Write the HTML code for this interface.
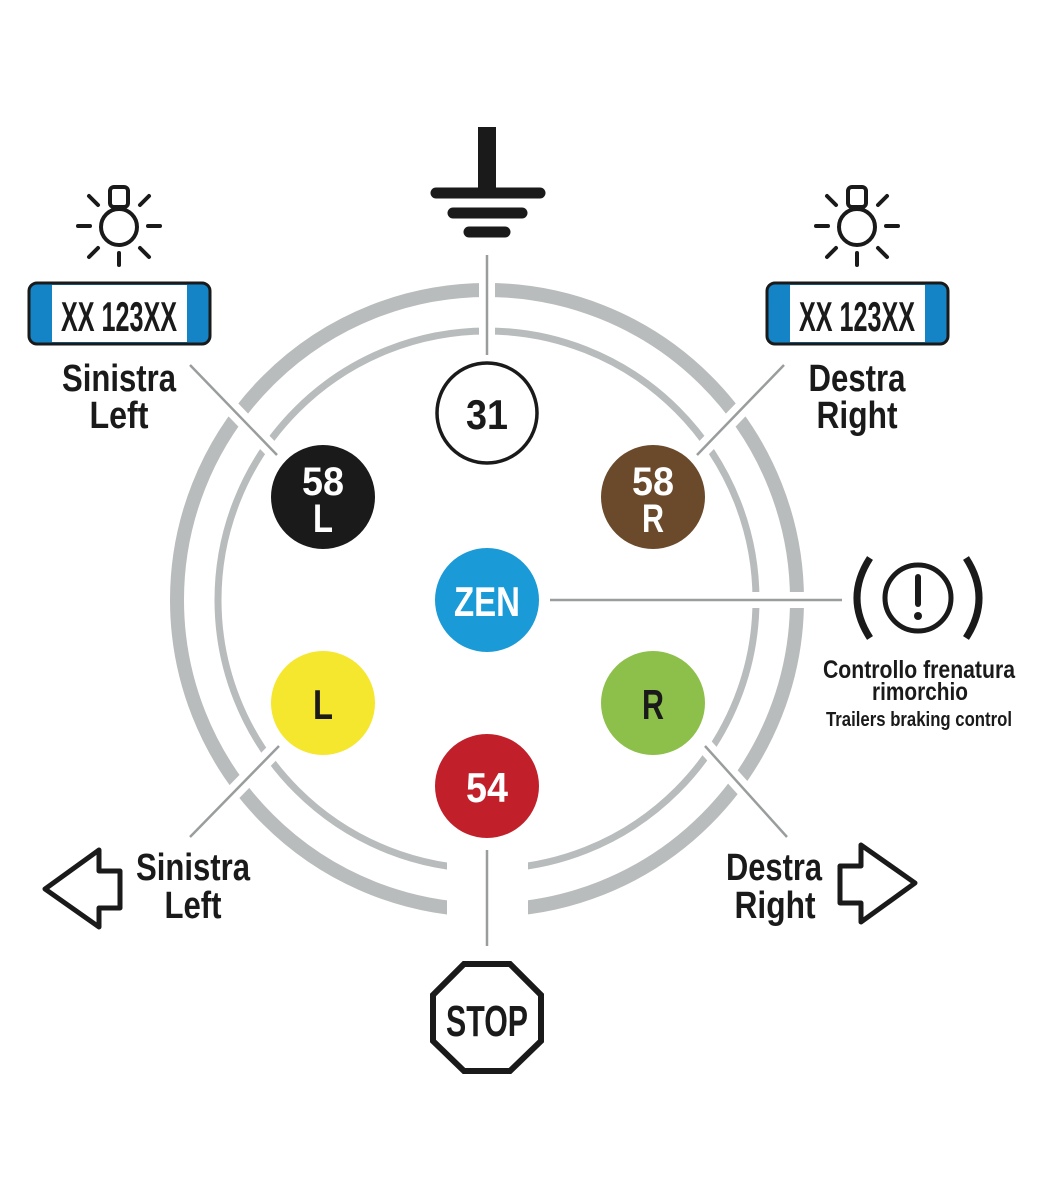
<!DOCTYPE html>
<html><head><meta charset="utf-8"><style>
html,body{margin:0;padding:0;background:#fff}
svg{display:block}
text{font-family:"Liberation Sans",sans-serif;font-weight:bold;text-anchor:middle;fill:#1a1a1a}
</style></head><body>
<svg width="1056" height="1200" viewBox="0 0 1056 1200" xmlns="http://www.w3.org/2000/svg">
<rect width="1056" height="1200" fill="#fff"/>
<circle cx="487" cy="600" r="310" fill="none" stroke="#b9bcbc" stroke-width="14"/>
<circle cx="487" cy="600" r="269" fill="none" stroke="#b9bcbc" stroke-width="7"/>
<g stroke="#fff" stroke-width="16">
<line x1="487" y1="255" x2="487" y2="355"/>
<line x1="190" y1="365" x2="277" y2="455"/>
<line x1="784" y1="365" x2="697" y2="455"/>
<line x1="550" y1="600" x2="842" y2="600"/>
<line x1="279" y1="746" x2="190" y2="837"/>
<line x1="705" y1="746" x2="787" y2="837"/>
</g>
<rect x="447" y="840" width="81" height="80" fill="#fff"/>
<g stroke="#9a9d9d" stroke-width="2.5">
<line x1="487" y1="255" x2="487" y2="355"/>
<line x1="190" y1="365" x2="277" y2="455"/>
<line x1="784" y1="365" x2="697" y2="455"/>
<line x1="550" y1="600" x2="842" y2="600"/>
<line x1="279" y1="746" x2="190" y2="837"/>
<line x1="705" y1="746" x2="787" y2="837"/>
<line x1="487" y1="850" x2="487" y2="946"/>
</g>
<circle cx="487" cy="413" r="50" fill="#fff" stroke="#1a1a1a" stroke-width="3.5"/>
<text x="487" y="429" font-size="42" textLength="42" lengthAdjust="spacingAndGlyphs">31</text>
<circle cx="323" cy="497" r="52" fill="#1a1a1a"/>
<text x="323" y="495" font-size="40" textLength="42" lengthAdjust="spacingAndGlyphs" style="fill:#fff">58</text>
<text x="323" y="532" font-size="40" textLength="20" lengthAdjust="spacingAndGlyphs" style="fill:#fff">L</text>
<circle cx="653" cy="497" r="52" fill="#6b4a2b"/>
<text x="653" y="495" font-size="40" textLength="42" lengthAdjust="spacingAndGlyphs" style="fill:#fff">58</text>
<text x="653" y="532" font-size="40" textLength="22" lengthAdjust="spacingAndGlyphs" style="fill:#fff">R</text>
<circle cx="487" cy="600" r="52" fill="#1a9ad6"/>
<text x="487" y="616" font-size="42" textLength="66" lengthAdjust="spacingAndGlyphs" style="fill:#fff">ZEN</text>
<circle cx="323" cy="703" r="52" fill="#f5e62e"/>
<text x="323" y="719" font-size="42" textLength="20" lengthAdjust="spacingAndGlyphs">L</text>
<circle cx="653" cy="703" r="52" fill="#8dc04a"/>
<text x="653" y="719" font-size="42" textLength="22" lengthAdjust="spacingAndGlyphs">R</text>
<circle cx="487" cy="786" r="52" fill="#c1202a"/>
<text x="487" y="802" font-size="42" textLength="42" lengthAdjust="spacingAndGlyphs" style="fill:#fff">54</text>
<rect x="478" y="127" width="18" height="70" fill="#1a1a1a"/>
<line x1="436" y1="193" x2="540" y2="193" stroke="#1a1a1a" stroke-width="11" stroke-linecap="round"/>
<line x1="453" y1="213" x2="522" y2="213" stroke="#1a1a1a" stroke-width="11" stroke-linecap="round"/>
<line x1="469" y1="232" x2="505" y2="232" stroke="#1a1a1a" stroke-width="11" stroke-linecap="round"/>
<g id="bulb" fill="none" stroke="#1a1a1a" stroke-width="4" stroke-linecap="round">
<circle cx="119" cy="227" r="18"/>
<rect x="110" y="187" width="18" height="20" rx="4"/>
<line x1="78" y1="226" x2="90" y2="226"/><line x1="148" y1="226" x2="160" y2="226"/>
<line x1="119" y1="253" x2="119" y2="265"/>
<line x1="89" y1="196" x2="98" y2="205"/><line x1="149" y1="196" x2="140" y2="205"/>
<line x1="89" y1="257" x2="98" y2="248"/><line x1="149" y1="257" x2="140" y2="248"/>
</g>
<use href="#bulb" x="738"/>
<rect x="29" y="283" width="181" height="61" rx="8" fill="#1484c6" stroke="#1a1a1a" stroke-width="3"/>
<rect x="52" y="285" width="135" height="57" fill="#fff"/>
<text x="119" y="331" font-size="42" textLength="116" lengthAdjust="spacingAndGlyphs">XX 123XX</text>
<rect x="767" y="283" width="181" height="61" rx="8" fill="#1484c6" stroke="#1a1a1a" stroke-width="3"/>
<rect x="790" y="285" width="135" height="57" fill="#fff"/>
<text x="857" y="331" font-size="42" textLength="116" lengthAdjust="spacingAndGlyphs">XX 123XX</text>
<text x="119" y="391" font-size="38" textLength="114" lengthAdjust="spacingAndGlyphs">Sinistra</text>
<text x="119" y="428" font-size="38" textLength="59" lengthAdjust="spacingAndGlyphs">Left</text>
<text x="857" y="391" font-size="38" textLength="97" lengthAdjust="spacingAndGlyphs">Destra</text>
<text x="857" y="428" font-size="38" textLength="81" lengthAdjust="spacingAndGlyphs">Right</text>
<text x="193" y="880" font-size="38" textLength="114" lengthAdjust="spacingAndGlyphs">Sinistra</text>
<text x="193" y="918" font-size="38" textLength="57" lengthAdjust="spacingAndGlyphs">Left</text>
<text x="774" y="880" font-size="38" textLength="96" lengthAdjust="spacingAndGlyphs">Destra</text>
<text x="775" y="918" font-size="38" textLength="81" lengthAdjust="spacingAndGlyphs">Right</text>
<polygon points="45,889 99,850 99,871 120,871 120,908 99,908 99,927" fill="none" stroke="#1a1a1a" stroke-width="5" stroke-linejoin="round"/>
<polygon points="915,883 861,845 861,866 840,866 840,903 861,903 861,922" fill="none" stroke="#1a1a1a" stroke-width="5" stroke-linejoin="round"/>
<circle cx="918" cy="598" r="33" fill="none" stroke="#1a1a1a" stroke-width="5"/>
<line x1="918" y1="577" x2="918" y2="604" stroke="#1a1a1a" stroke-width="6" stroke-linecap="round"/>
<circle cx="918" cy="616" r="4" fill="#1a1a1a"/>
<path d="M870,558 Q844,598 870,638" fill="none" stroke="#1a1a1a" stroke-width="7"/>
<path d="M966,558 Q992,598 966,638" fill="none" stroke="#1a1a1a" stroke-width="7"/>
<text x="919" y="678" font-size="25" textLength="192" lengthAdjust="spacingAndGlyphs">Controllo frenatura</text>
<text x="920" y="700" font-size="25" textLength="96" lengthAdjust="spacingAndGlyphs">rimorchio</text>
<text x="919" y="726" font-size="20" textLength="186" lengthAdjust="spacingAndGlyphs">Trailers braking control</text>
<polygon points="464,964 510,964 541,995 541,1041 510,1071 464,1071 433,1041 433,995" fill="none" stroke="#1a1a1a" stroke-width="6"/>
<text x="487" y="1036" font-size="44" textLength="82" lengthAdjust="spacingAndGlyphs">STOP</text>
</svg>
</body></html>
